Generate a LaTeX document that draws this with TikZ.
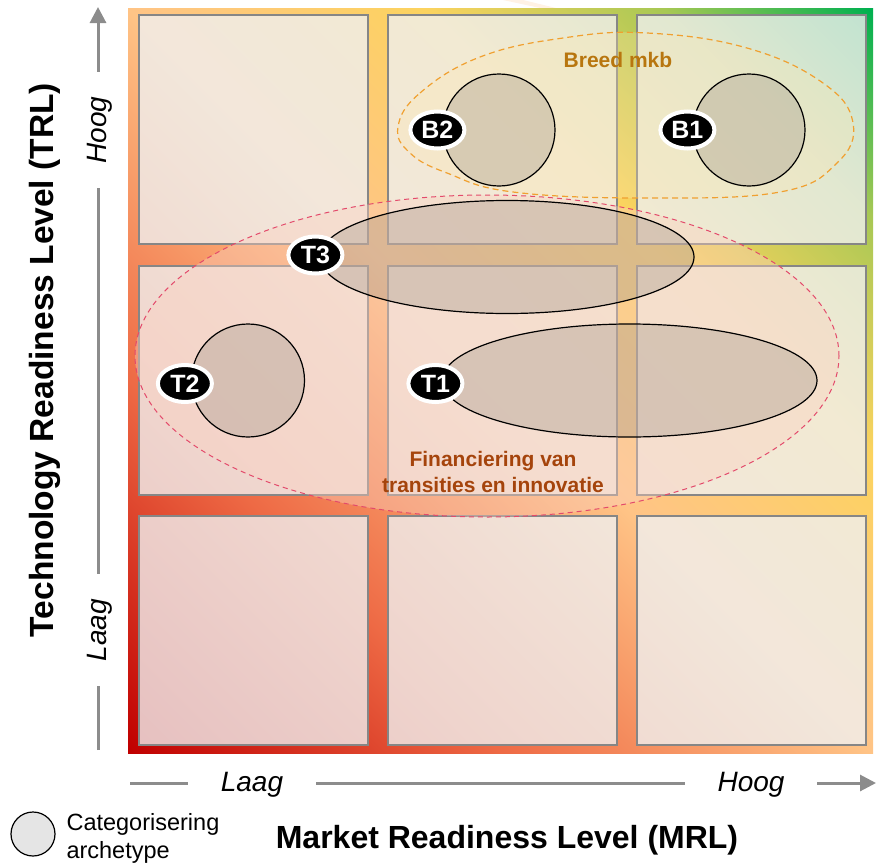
\documentclass[tikz,border=0pt]{standalone}
\usepackage{fontspec}
\setmainfont{Liberation Sans}
\usetikzlibrary{shapes.geometric,arrows.meta,positioning}

\definecolor{lowred}{HTML}{C00000}
\definecolor{midred}{HTML}{EE6A45}
\definecolor{midorange}{HTML}{FFC486}
\definecolor{midyellow}{HTML}{FCD35F}
\definecolor{midlime}{HTML}{A8C854}
\definecolor{highgreen}{HTML}{00B050}
\definecolor{cellgray}{HTML}{F0F0F0}
\definecolor{axisgray}{HTML}{8C8C8C}
\definecolor{finfill}{HTML}{FAD0C0}
\definecolor{finline}{HTML}{E34A6B}
\definecolor{fintext}{HTML}{A5440C}
\definecolor{breedfill}{HTML}{FCE6B0}
\definecolor{breedline}{HTML}{F0A030}
\definecolor{breedtext}{HTML}{B8760F}
\definecolor{archfill}{HTML}{A0968A}

\pgfdeclarehorizontalshading{readiness}{100bp}{color(0bp)=(lowred); color(14.6bp)=(lowred); color(32.3bp)=(midred); color(50bp)=(midorange); color(64.1bp)=(midyellow); color(75.5bp)=(midlime); color(85.4bp)=(highgreen); color(100bp)=(highgreen)}

\begin{document}
\begin{tikzpicture}[
    x=1pt, y=-1pt,
    cell/.style={rectangle, draw=gray!95, line width=2pt, fill=cellgray, fill opacity=0.8, minimum size=229pt, inner sep=0pt},
    finzone/.style={ellipse, draw=finline, fill=finfill, fill opacity=0.4, dashed, dash pattern=on 5pt off 4pt, line width=1pt, inner sep=0pt},
    breedzone/.style={draw=breedline, fill=breedfill, fill opacity=0.3, dash pattern=on 6pt off 4pt, line width=1.2pt},
    archetype/.style={draw=black, line width=1.2pt, fill=archfill, fill opacity=0.35, inner sep=0pt},
    badge/.style={ellipse, fill=black, draw=white, line width=4pt, text=white, inner sep=0pt, minimum width=54pt, minimum height=37pt, font=\bfseries\fontsize{25pt}{25pt}\selectfont},
    axis/.style={draw=axisgray, line width=3pt, -{Triangle[length=16pt,width=16pt]}},
    ticklabel/.style={fill=white, inner ysep=2pt, font=\itshape\fontsize{28pt}{28pt}\selectfont},
    title/.style={font=\bfseries\fontsize{32pt}{32pt}\selectfont},
    zonetext/.style={align=center, font=\bfseries\fontsize{21pt}{26pt}\selectfont}
]
\useasboundingbox (0,0) rectangle (876,865);

% Background with readiness gradient
\fill[white!90!orange] (503,0) -- (523,0) -- (556,8) -- (540,8) -- cycle;
\shade[shading=readiness, shading angle=45] (128,8) rectangle (873,753);

% Grid cells
\foreach \col in {0,1,2}{
  \foreach \row in {0,1,2}{
    \node[cell] (cell-\col-\row) at ({253.5+249*\col},{129.5+250.5*\row}) {};
  }
}

% Zones
\node[finzone, minimum width=704pt, minimum height=322pt] (fin) at (487,356) {};
\draw[breedzone] plot[smooth cycle, tension=0.7] coordinates {(398,127) (420,93) (480,57) (563,38) (647,33) (747,48) (823,83) (853,123) (837,163) (780,192) (647,198) (513,192) (447,173) (410,153)};
\node[zonetext, text=fintext] (fintxt) at (493,472) {Financiering van\\transities en innovatie};
\node[zonetext, text=breedtext] (breedtxt) at (618,60) {Breed mkb};

% Archetypes
\node[archetype, circle, minimum size=112pt] (b2) at (499,130) {};
\node[archetype, circle, minimum size=112pt] (b1) at (749,130) {};
\node[archetype, ellipse, minimum width=374pt, minimum height=113pt] (t3) at (507,257) {};
\node[archetype, circle, minimum size=113pt] (t2) at (248,380.5) {};
\node[archetype, ellipse, minimum width=375pt, minimum height=113pt] (t1) at (629.5,380.5) {};

% Badges
\node[badge] (lb2) at ([xshift=-5pt]b2.west) {B2};
\node[badge] (lb1) at ([xshift=-5pt]b1.west) {B1};
\node[badge] (lt3) at ([xshift=-4pt,yshift=2pt]t3.west) {T3};
\node[badge] (lt2) at ([xshift=-6pt,yshift=-3pt]t2.west) {T2};
\node[badge] (lt1) at ([xshift=-6pt,yshift=-3pt]t1.west) {T1};

% Axes
\coordinate (mstart) at (130,783);
\coordinate (mend) at (876,783);
\coordinate (tstart) at (98,750);
\coordinate (tend) at (98,7);
\draw[axis] (mstart) -- (mend);
\draw[axis] (tstart) -- (tend);
\node[ticklabel, inner xsep=33pt] (mlow) at (252,785) {Laag};
\node[ticklabel, inner xsep=33pt] (mhigh) at (751,785) {Hoog};
\node[ticklabel, inner xsep=25pt, rotate=90] (tlow) at (100,630) {Laag};
\node[ticklabel, inner xsep=25pt, rotate=90] (thigh) at (100,130) {Hoog};

% Titles
\node[title, anchor=base] (mrl) at (507,848) {Market Readiness Level (MRL)};
\node[title, anchor=base, rotate=90, font=\bfseries\fontsize{33.5pt}{34pt}\selectfont] (trl) at (53,360) {Technology Readiness Level (TRL)};

% Legend
\node[circle, draw=black, line width=1.2pt, fill=black!10, minimum size=44pt, inner sep=0pt] (legcircle) at (33,834) {};
\node[anchor=west, align=left, font=\fontsize{23.5pt}{28pt}\selectfont] (legtext) at (63,838) {Categorisering\\archetype};

\end{tikzpicture}
\end{document}
